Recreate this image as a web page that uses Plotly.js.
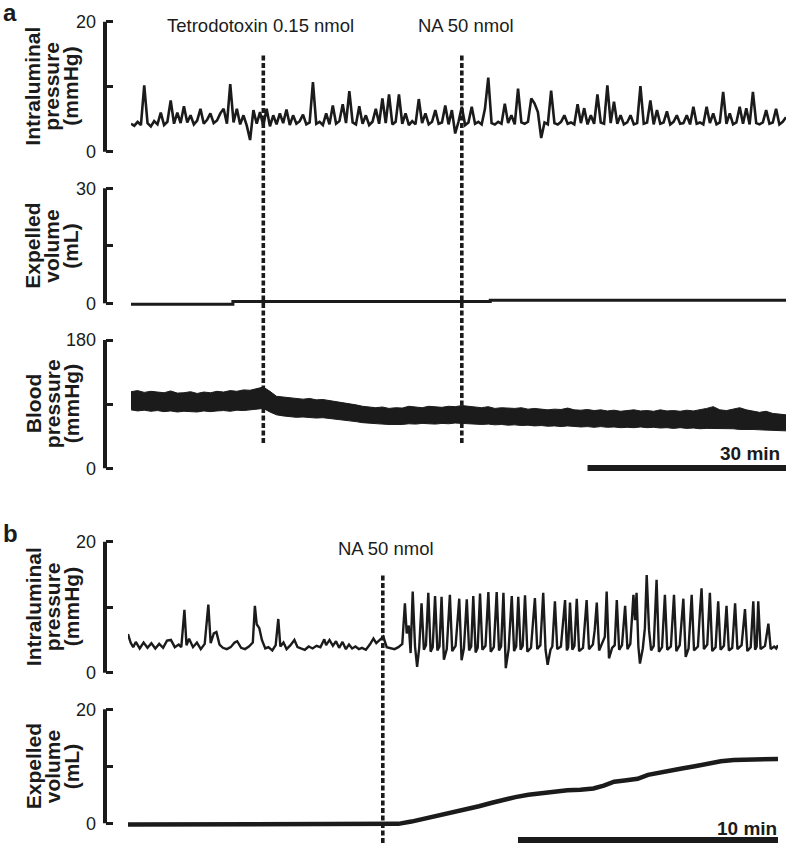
<!DOCTYPE html>
<html>
<head>
<meta charset="utf-8">
<script src="https://cdn.plot.ly/plotly-3.0.1.min.js"></script>
<style>html,body{margin:0;padding:0;background:#fff;}#chart{width:787px;height:844px;}</style>
</head>
<body>
<div id="chart"></div>
<script>
// ---------------- DATA ----------------
// Panel a: intraluminal pressure (mmHg), one sample every 0.5 min starting at 0 min
const intraStepA = 0.5;
const intraPressA = [
  4.3,4.0,4.6,4.1,10.2,4.4,3.9,4.7,4.2,6.0,
  4.1,4.6,7.9,4.3,6.0,4.4,7.0,4.5,5.6,4.2,
  4.8,6.6,4.3,4.9,5.9,4.4,4.8,5.9,6.6,4.3,
  10.4,4.5,6.6,4.2,5.6,4.0,1.8,6.4,4.3,6.1,
  4.0,6.6,3.9,5.6,4.2,5.9,4.4,6.5,4.1,5.6,
  4.3,4.7,5.7,4.2,4.5,10.7,4.3,4.6,4.1,5.9,
  4.2,7.1,4.3,4.7,7.3,4.4,9.3,4.5,4.2,7.0,
  4.3,5.6,4.1,4.6,6.6,4.3,8.2,4.4,8.8,4.2,
  4.6,8.8,4.3,5.9,4.1,4.7,4.2,8.1,4.4,5.9,
  4.2,4.6,6.4,4.3,4.5,7.1,4.2,6.4,2.8,4.6,
  6.9,4.1,4.5,6.9,4.3,4.6,4.2,6.6,11.4,4.4,
  4.2,4.6,4.3,7.4,4.4,5.6,4.2,9.7,4.5,4.3,
  4.6,8.2,7.4,6.1,2.1,4.5,4.2,9.4,4.4,4.2,
  4.6,5.6,4.3,4.5,4.2,7.3,4.4,6.7,4.2,5.6,
  4.3,8.8,4.5,4.3,10.2,4.4,7.7,4.3,5.6,4.2,
  4.5,5.6,4.2,4.4,10.1,4.3,4.5,7.9,4.2,6.4,
  4.3,4.5,6.2,4.2,4.6,5.6,4.3,4.4,5.6,4.2,
  6.9,4.3,4.5,4.2,6.9,4.4,5.9,4.2,4.5,9.2,
  4.3,5.9,4.2,4.5,6.9,4.3,6.7,4.2,9.2,4.4,
  4.2,4.5,6.4,4.3,4.5,6.6,4.2,4.6,5.3
];
// Panel a: expelled volume (mL), step trace
const volTimeA = [0, 15.4, 54.3, 99];
const volA = [-0.25, 0.45, 0.8, 0.8];
// Panel a: blood pressure envelope (mmHg), one sample per min
const bpStepA = 1;
const bpUpperA = [
  107.5,109,106.5,108,107,106,108.5,105.5,106,107.5,
  105,107,106,108,107,109,108,110,109.5,112,
  114,108,101,100,99,98.5,97,98,96,96.5,
  95,94,93,91.5,89,87,86.5,85,86,84,
  85,84.5,87,86,85,87,86,85.5,87,86.5,
  88,87,86,85,86.5,84,85,84.5,84,85,
  83,84,83.5,82,83,82.5,84.5,82,81.5,82.5,
  81,82,80.5,81.5,80,81,82,80.5,81,80,
  82,80.5,81,80,81.5,80.5,82,84,86.5,82,
  81,83,85,82,80,78.5,80,77,76,75
];
const bpLowerA = [
  82,80.5,81.5,80,81,79.5,80.5,79,80,79.5,
  79,80.5,79.5,80.5,81,80,81.5,81,82,83,
  84,79,75,73.5,72.5,71.5,72,71,70.5,71,
  70,69.5,68,67,65.5,64,63,62.5,62,61.5,
  61,61.5,62.5,62,63,62.5,62,63,62.5,63.5,
  63,62,62.5,61.5,62,61,61.5,60.5,61,60,
  60.5,59.5,60,59,59.5,58.5,59.5,58.5,58,58.5,
  57.5,58.5,57.5,58,57,57.5,57,58,57,57.5,
  56.5,57,56,57,56,56.5,55.5,56,56,55.5,
  55,55.5,54.5,55,54.5,54,53.5,54,53,52.5
];
const eventTimesA = [20, 50];
const eventLabelsA = ['Tetrodotoxin 0.15 nmol', 'NA 50 nmol'];
const scaleBarA = [69, 99];
const scaleLabelA = '30 min';

// Panel b: intraluminal pressure (mmHg)
const pressTimeB = [
  0.00,0.10,0.20,0.30,0.45,0.60,0.75,0.90,1.05,1.20,
  1.35,1.50,1.65,1.80,1.95,2.05,2.17,2.25,2.35,2.50,
  2.65,2.80,2.95,3.09,3.18,3.30,3.40,3.52,3.65,3.80,
  3.95,4.10,4.20,4.35,4.50,4.65,4.80,4.88,4.95,5.05,
  5.15,5.28,5.40,5.55,5.68,5.78,5.86,5.98,6.10,6.25,
  6.40,6.52,6.65,6.80,6.95,7.10,7.25,7.40,7.55,7.62,
  7.75,7.88,8.00,8.12,8.25,8.38,8.50,8.62,8.75,8.88,
  9.00,9.15,9.30,9.44,9.55,9.70,9.82,9.95,10.10,10.25,
  10.40,10.50,
  10.55,10.65,10.72,10.80,10.87,10.95,11.04,11.12,11.20,11.29,
  11.38,11.46,11.55,11.64,11.72,11.81,11.90,11.98,12.06,12.15,
  12.26,12.38,12.47,12.60,12.74,12.83,12.92,13.03,13.12,13.20,
  13.28,13.37,13.45,13.54,13.63,13.75,13.86,13.95,14.07,14.18,
  14.27,14.35,14.44,14.53,14.64,14.76,14.85,14.93,15.01,15.10,
  15.18,15.27,15.36,15.50,15.65,15.74,15.86,15.97,16.06,16.14,
  16.25,16.32,16.42,16.51,16.65,16.81,16.88,16.93,17.00,17.09,
  17.17,17.26,17.35,17.50,17.64,17.73,17.88,17.95,18.03,18.12,
  18.25,18.34,18.41,18.50,18.62,18.72,18.80,18.89,19.00,19.12,
  19.21,19.32,19.44,19.50,19.56,19.63,19.69,19.80,19.88,19.95,
  20.04,20.12,20.22,20.33,20.42,20.54,20.65,20.74,20.88,21.00,
  21.09,21.22,21.36,21.45,21.56,21.68,21.77,21.92,22.00,22.06,
  22.15,22.28,22.38,22.47,22.60,22.70,22.79,22.92,23.02,23.11,
  23.24,23.35,23.44,23.60,23.73,23.82,23.95,24.05,24.12,24.18,
  24.24,24.33,24.50,24.63,24.72,24.85,24.93,25.00
];
const pressB = [
  5.9,4.6,3.9,4.7,3.7,4.6,3.8,4.5,3.7,4.4,
  3.8,4.9,5.0,3.9,4.3,3.9,9.6,4.2,5.2,3.9,
  4.6,3.6,4.4,10.4,4.5,6.0,6.2,4.3,3.8,3.6,
  3.9,4.6,4.8,3.8,3.6,4.0,4.6,10.2,7.4,6.8,
  5.0,3.7,3.9,3.4,4.2,8.2,4.0,4.6,3.6,4.2,
  5.0,3.9,3.7,3.5,4.0,3.7,4.1,3.9,5.1,4.2,
  5.0,4.1,4.8,3.8,4.7,3.6,4.3,3.7,4.0,3.6,
  3.8,3.5,4.3,5.2,4.5,5.1,5.5,3.9,3.7,3.6,
  3.9,4.2,
  4.4,10.6,6.0,7.2,3.0,12.4,4.0,0.9,3.8,10.6,
  3.5,4.2,12.2,3.2,3.9,11.7,3.4,4.0,11.6,2.0,
  3.6,11.9,3.3,4.1,11.3,1.9,3.7,11.2,3.4,4.0,
  11.7,3.1,3.8,12.1,3.5,4.1,12.3,3.2,3.9,12.3,
  3.4,4.0,12.2,0.7,3.6,11.7,3.3,4.0,11.6,3.5,
  4.1,11.8,3.2,3.8,11.4,3.6,4.2,12.2,3.5,1.2,
  3.5,4.0,10.9,3.6,4.0,11.1,3.4,3.9,10.7,3.5,
  4.1,11.3,3.3,3.8,11.1,3.6,4.3,6.5,10.7,3.4,
  4.5,5.5,12.4,2.2,3.8,4.2,11.1,3.5,4.2,10.2,
  3.6,4.4,11.9,8.0,12.2,4.0,1.4,3.7,6.8,14.9,
  6.5,3.4,4.1,14.2,3.2,3.9,11.9,3.5,4.0,11.9,
  3.3,4.2,11.3,2.4,3.7,11.9,3.4,4.0,9.5,12.9,
  3.6,4.3,12.2,3.3,3.9,10.9,3.5,4.1,10.2,3.4,
  3.8,10.6,3.6,4.2,9.7,3.3,3.9,10.9,3.5,4.0,
  10.9,3.6,4.1,7.5,3.6,4.0,3.7,4.2
];
// Panel b: expelled volume (mL)
const volTimeB = [0,9.8,10.4,10.9,11.3,11.7,12.2,12.6,13.0,13.5,14.0,14.4,14.9,15.4,15.9,16.4,16.9,17.4,17.9,18.3,18.7,19.1,19.6,20.0,20.4,20.9,21.3,21.8,22.3,22.8,23.3,23.8,24.3,25.0];
const volB = [-0.2,-0.2,-0.1,0.3,0.7,1.0,1.6,2.0,2.4,3.0,3.6,4.1,4.6,5.0,5.3,5.6,5.8,5.9,6.1,6.6,7.3,7.5,7.8,8.5,8.9,9.2,9.6,10.0,10.5,10.9,11.1,11.2,11.2,11.3];
const eventTimesB = [9.8];
const eventLabelsB = ['NA 50 nmol'];
const scaleBarB = [15, 25];
const scaleLabelB = '10 min';

// Axis ticks
const ticksIntra = [0, 10, 20], tickTextIntra = ['0', '', '20'];
const ticksVolA = [0, 15, 30], tickTextVolA = ['0', '', '30'];
const ticksBP = [0, 90, 180], tickTextBP = ['0', '', '180'];
const ticksVolB = [0, 10, 20], tickTextVolB = ['0', '', '20'];

// ---------------- LAYOUT HELPERS ----------------
const W = 787, H = 844;
const ink = '#1b1b1b';
const fam = 'Liberation Sans, Arial, Helvetica, sans-serif';
const fy = p => 1 - p / H;
const fx = p => p / W;
const axisX = 105;          // page x (px) of the vertical axis lines
const pageX = [0, W];       // range of the full-width helper axis used for the axis lines

function yDomain(pxZero, pxMax, vmax, lo, hi) {
  const ppu = (pxZero - pxMax) / vmax;
  const pLo = pxZero - lo * ppu, pHi = pxZero - hi * ppu;
  return [fy(pLo), fy(pHi)];
}
function yAxis(pxZero, pxMax, vmax, lo, hi, tv, tt) {
  return {
    domain: yDomain(pxZero, pxMax, vmax, lo, hi), range: [lo, hi],
    anchor: 'free', position: fx(axisX),
    showgrid: false, zeroline: false, showline: false,
    ticks: 'inside', ticklen: 7, tickwidth: 3, tickcolor: ink,
    tickvals: tv, ticktext: tt, ticklabelstandoff: 9,
    tickfont: {family: fam, size: 18, color: ink}, fixedrange: true
  };
}
const panels = [
  {ax: 'yaxis',  id: 'y',  pz: 151.7, pm: 21.7,  vmax: 20,  lo: -0.3, hi: 20.2,  tv: ticksIntra, tt: tickTextIntra, title: ['Intraluminal', 'pressure', '(mmHg)']},
  {ax: 'yaxis2', id: 'y2', pz: 303.3, pm: 188.3, vmax: 30,  lo: -2,   hi: 30.4,  tv: ticksVolA, tt: tickTextVolA, title: ['Expelled', 'volume', '(mL)']},
  {ax: 'yaxis3', id: 'y3', pz: 468.3, pm: 340,   vmax: 180, lo: -2,   hi: 182,   tv: ticksBP, tt: tickTextBP, title: ['Blood', 'pressure', '(mmHg)']},
  {ax: 'yaxis4', id: 'y4', pz: 672.7, pm: 541.7, vmax: 20,  lo: -0.3, hi: 20.2,  tv: ticksIntra, tt: tickTextIntra, title: ['Intraluminal', 'pressure', '(mmHg)']},
  {ax: 'yaxis5', id: 'y5', pz: 823.3, pm: 709.3, vmax: 20,  lo: -2,   hi: 20.3,  tv: ticksVolB, tt: tickTextVolB, title: ['Expelled', 'volume', '(mL)']}
];

const layout = {
  width: W, height: H, margin: {l: 0, r: 0, t: 0, b: 0},
  paper_bgcolor: '#fff', plot_bgcolor: 'rgba(0,0,0,0)', showlegend: false,
  xaxis: {domain: [fx(131), fx(786)], range: [0, 99], visible: false, anchor: 'y', fixedrange: true},
  xaxis2: {domain: [fx(128), fx(778)], range: [0, 25], visible: false, anchor: 'y4', fixedrange: true},
  xaxis3: {domain: [0, 1], range: pageX, visible: false, anchor: 'y', fixedrange: true},
  shapes: [], annotations: []
};
const titleX = [33, 52, 71];
const axisLineTraces = [];
panels.forEach(p => {
  layout[p.ax] = yAxis(p.pz, p.pm, p.vmax, p.lo, p.hi, p.tv, p.tt);
  // vertical axis line from 0 to the top value, drawn on the full-page helper x axis
  axisLineTraces.push({type: 'scatter', mode: 'lines', x: [axisX, axisX], y: [0, p.vmax], xaxis: 'x3', yaxis: p.id,
    line: {color: ink, width: 4}, hoverinfo: 'skip'});
  const yc = (p.pz + p.pm) / 2;
  p.title.forEach((t, i) => {
    layout.annotations.push({xref: 'paper', yref: 'paper', x: fx(titleX[i]), y: fy(yc), xanchor: 'center', yanchor: 'middle',
      text: '<b>' + t + '</b>', textangle: -90, showarrow: false, font: {family: fam, size: 21, color: ink}});
  });
});

// event dashed lines + labels
eventTimesA.forEach((t, i) => {
  layout.shapes.push({type: 'line', xref: 'x', yref: 'paper', x0: t, x1: t, y0: fy(443), y1: fy(53), line: {color: ink, width: 3.6, dash: '5px,2.5px'}});
  layout.annotations.push({xref: 'x', yref: 'paper', x: t, xshift: i === 0 ? -3 : 4, y: fy(25), xanchor: 'center', yanchor: 'middle',
    text: eventLabelsA[i], showarrow: false, font: {family: fam, size: 18.5, color: ink}});
});
eventTimesB.forEach((t, i) => {
  layout.shapes.push({type: 'line', xref: 'x2', yref: 'paper', x0: t, x1: t, y0: fy(843), y1: fy(573), line: {color: ink, width: 3.6, dash: '5px,2.5px'}});
  layout.annotations.push({xref: 'x2', yref: 'paper', x: t, xshift: 3, y: fy(548), xanchor: 'center', yanchor: 'middle',
    text: eventLabelsB[i], showarrow: false, font: {family: fam, size: 18.5, color: ink}});
});
// scale bars
layout.shapes.push({type: 'line', xref: 'x', yref: 'paper', x0: scaleBarA[0], x1: scaleBarA[1], y0: fy(468), y1: fy(468), line: {color: ink, width: 6}});
layout.shapes.push({type: 'line', xref: 'x2', yref: 'paper', x0: scaleBarB[0], x1: scaleBarB[1], y0: fy(840), y1: fy(840), line: {color: ink, width: 6}});
layout.annotations.push({xref: 'paper', yref: 'paper', x: fx(782), y: fy(453), xanchor: 'right', yanchor: 'middle', text: '<b>' + scaleLabelA + '</b>', showarrow: false, font: {family: fam, size: 19, color: ink}});
layout.annotations.push({xref: 'paper', yref: 'paper', x: fx(779), y: fy(828), xanchor: 'right', yanchor: 'middle', text: '<b>' + scaleLabelB + '</b>', showarrow: false, font: {family: fam, size: 19, color: ink}});
// panel letters
layout.annotations.push({xref: 'paper', yref: 'paper', x: fx(10), y: fy(13), xanchor: 'center', yanchor: 'middle', text: '<b>a</b>', showarrow: false, font: {family: fam, size: 24, color: ink}});
layout.annotations.push({xref: 'paper', yref: 'paper', x: fx(10), y: fy(533), xanchor: 'center', yanchor: 'middle', text: '<b>b</b>', showarrow: false, font: {family: fam, size: 24, color: ink}});

// ---------------- TRACES ----------------
const traces = [
  {type: 'scatter', mode: 'lines', x0: 0, dx: intraStepA, y: intraPressA, xaxis: 'x', yaxis: 'y', line: {color: ink, width: 2.6}, hoverinfo: 'skip'},
  {type: 'scatter', mode: 'lines', x: volTimeA, y: volA, xaxis: 'x', yaxis: 'y2', line: {color: ink, width: 3, shape: 'hv'}, hoverinfo: 'skip'},
  {type: 'scatter', mode: 'lines', x0: 0, dx: bpStepA, y: bpLowerA, xaxis: 'x', yaxis: 'y3', line: {color: ink, width: 1}, hoverinfo: 'skip'},
  {type: 'scatter', mode: 'lines', x0: 0, dx: bpStepA, y: bpUpperA, xaxis: 'x', yaxis: 'y3', fill: 'tonexty', fillcolor: ink, line: {color: ink, width: 1}, hoverinfo: 'skip'},
  {type: 'scatter', mode: 'lines', x: pressTimeB, y: pressB, xaxis: 'x2', yaxis: 'y4', line: {color: ink, width: 2.4}, hoverinfo: 'skip'},
  {type: 'scatter', mode: 'lines', x: volTimeB, y: volB, xaxis: 'x2', yaxis: 'y5', line: {color: ink, width: 4.5}, hoverinfo: 'skip'}
].concat(axisLineTraces);

Plotly.newPlot('chart', traces, layout, {displayModeBar: false, staticPlot: true});
</script>
</body>
</html>
